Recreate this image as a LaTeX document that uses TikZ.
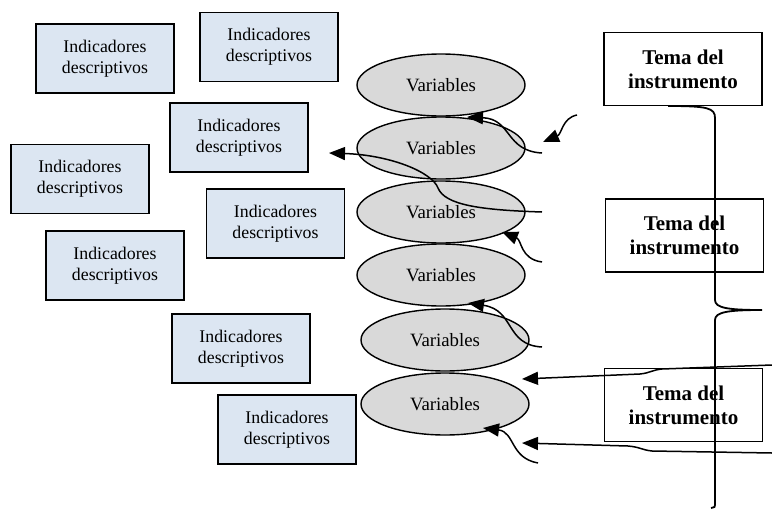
\documentclass[tikz,border=0pt]{standalone}
\usepackage{fontspec}
\setmainfont{Liberation Serif}
\usetikzlibrary{shapes.geometric,arrows.meta}
\definecolor{boxblue}{HTML}{DCE6F2}
\definecolor{ellgray}{HTML}{D9D9D9}
\begin{document}
\begin{tikzpicture}[x=1pt,y=-1pt,
  ind/.style={draw, line width=1.5pt, fill=boxblue, minimum width=138pt, minimum height=69pt, inner sep=0pt, align=center, font=\fontsize{17.8}{21}\selectfont},
  tema/.style={draw, line width=1.3pt, fill=white, minimum width=158pt, minimum height=73pt, inner sep=0pt, align=center, font=\fontsize{21}{24}\selectfont\bfseries},
  var/.style={ellipse, draw, line width=1.4pt, fill=ellgray, minimum width=168pt, minimum height=62pt, inner sep=0pt, font=\fontsize{18.8}{21}\selectfont},
  conn/.style={line width=1.5pt, -{Triangle[length=16pt,width=13pt]}},
  bracestyle/.style={line width=1.8pt}]
\useasboundingbox (0,0) rectangle (772,509);

% indicator boxes
\node[ind] (i1) at (105,58.5) {Indicadores\\descriptivos};
\node[ind] (i2) at (269,47) {Indicadores\\descriptivos};
\node[ind] (i3) at (239,137.5) {Indicadores\\descriptivos};
\node[ind] (i4) at (80,179) {Indicadores\\descriptivos};
\node[ind] (i5) at (275.5,223.5) {Indicadores\\descriptivos};
\node[ind] (i6) at (115,265.5) {Indicadores\\descriptivos};
\node[ind] (i7) at (241,348.5) {Indicadores\\descriptivos};
\node[ind] (i8) at (287,429.5) {Indicadores\\descriptivos};

% theme boxes
\node[tema] (t1) at (683,69) {Tema del\\instrumento};
\node[tema] (t2) at (684.5,235.5) {Tema del\\instrumento};
\node[tema] (t3) at (683.5,405) {Tema del\\instrumento};

% variables
\node[var] (v1) at (441,85) {Variables};
\node[var] (v2) at (441,148) {Variables};
\node[var] (v3) at (441,212) {Variables};
\node[var] (v4) at (441,275) {Variables};
\node[var] (v5) at (445,340) {Variables};
\node[var] (v6) at (445,404) {Variables};

% connector end points
\coordinate (sa) at (577,115); \coordinate (ta) at (543,142);
\coordinate (sb) at (542,153); \coordinate (tb) at (467,117);
\coordinate (sc) at (542,212); \coordinate (tc) at (329,153);
\coordinate (sd) at (542,262); \coordinate (td) at (502,232);
\coordinate (se) at (542,347); \coordinate (te) at (468,303);
\coordinate (sf) at (772,365); \coordinate (tf) at (522,379);
\coordinate (sg) at (538,463); \coordinate (tg) at (483,428);
\coordinate (sh) at (772,453); \coordinate (th) at (522,443);

\draw[conn] (sa) .. controls (562,118) and (562,134) .. (ta);
\draw[conn] (sb) .. controls (505,151) and (512,119) .. (tb);
\draw[conn] (sc) .. controls (480,210) and (445,205) .. (438,188) .. controls (432,172) and (390,155) .. (tc);
\draw[conn] (sd) .. controls (520,259) and (522,240) .. (td);
\draw[conn] (se) .. controls (505,345) and (515,310) .. (te);
\draw[conn] (sf) -- (662,369) .. controls (652,370) and (650,373) .. (640,374) -- (tf);
\draw[conn] (sg) .. controls (510,458) and (515,432) .. (tg);
\draw[conn] (sh) -- (652,451) .. controls (642,450) and (640,447) .. (628,446) -- (th);

% brace
\coordinate (b0) at (668,106);
\coordinate (bt) at (762,310);
\coordinate (be) at (711,508);
\draw[bracestyle] (b0) .. controls (708,106) and (715,108) .. (715,118) -- (715,300)
  .. controls (715,308) and (728,310) .. (bt)
  .. controls (728,310) and (715,312) .. (715,320) -- (715,505)
  .. controls (715,507) .. (be);
\end{tikzpicture}
\end{document}
